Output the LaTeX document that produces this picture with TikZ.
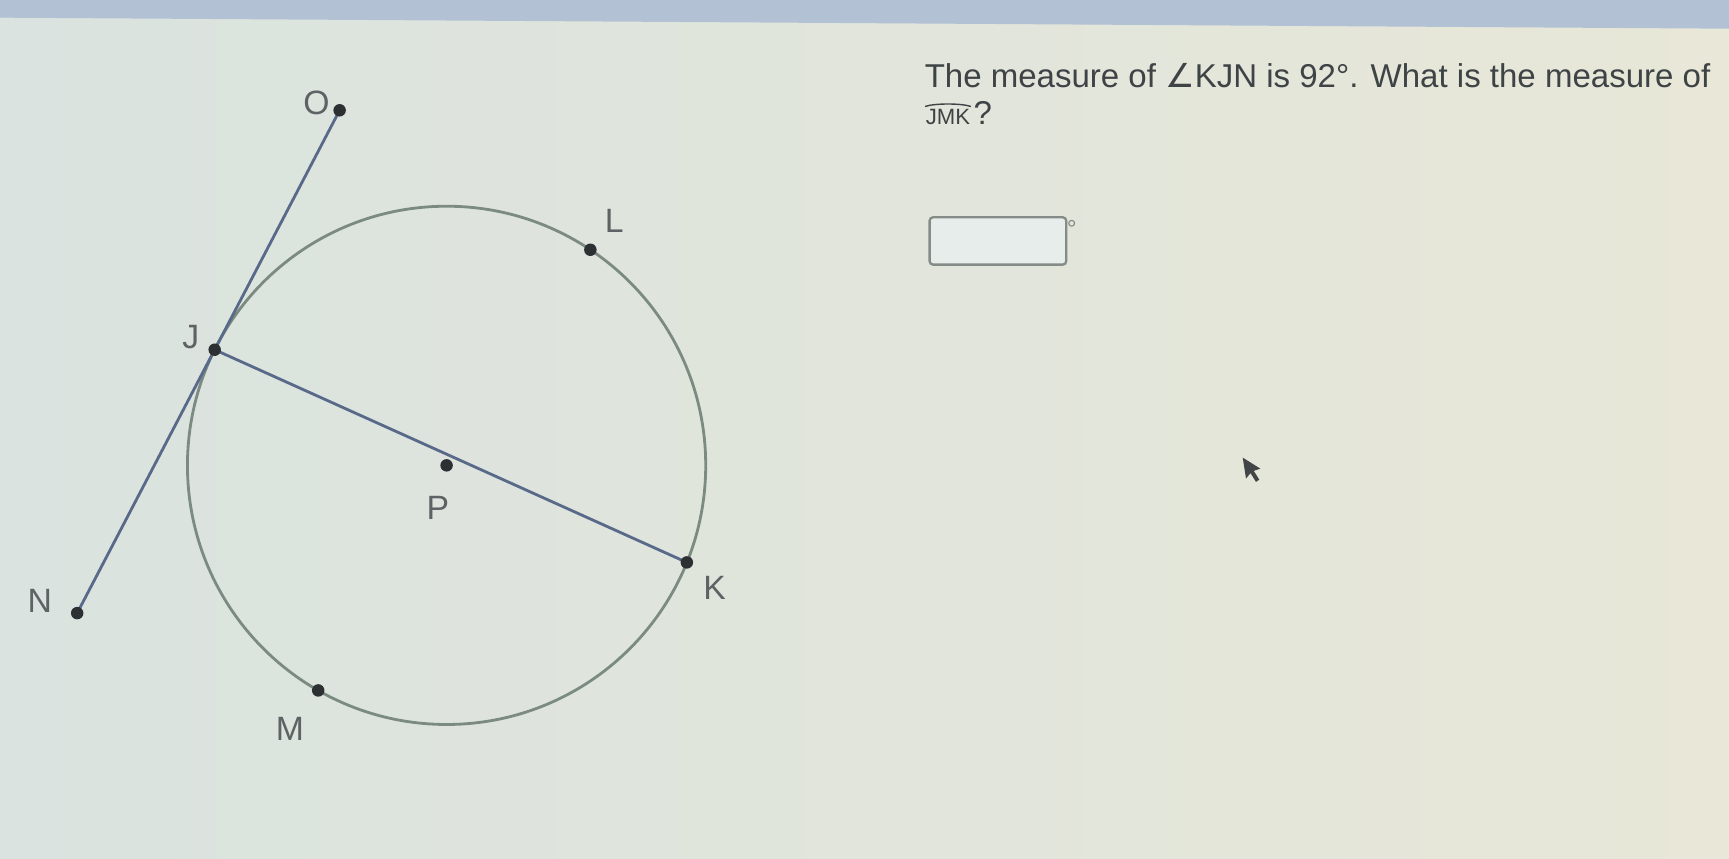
\documentclass[tikz,border=0pt]{standalone}
\usepackage{fontspec}
\setmainfont{Liberation Sans}
\newfontfamily\djv{DejaVu Sans}
\usetikzlibrary{calc}
\definecolor{bgL}{HTML}{DAE3DF}
\definecolor{bgR}{HTML}{E8E7D8}
\definecolor{barC}{HTML}{B2C1D4}
\definecolor{circC}{HTML}{7B8B82}
\definecolor{lineC}{HTML}{59698A}
\definecolor{dotC}{HTML}{2C3033}
\definecolor{labC}{HTML}{5E6264}
\definecolor{txtC}{HTML}{3E4346}
\definecolor{boxC}{HTML}{858B87}
\pgfdeclarelayer{background}
\pgfdeclarelayer{lines}
\pgfsetlayers{background,lines,main}
\begin{document}
\begin{tikzpicture}[x=0.011027cm,y=-0.011027cm,
  ptdot/.style={circle,fill=dotC,inner sep=0pt,minimum size=0.125cm},
  ptlab/.style={text=labC,font=\fontsize{9.6}{10}\selectfont,inner sep=0pt},
  seg/.style={draw=lineC,line width=0.8pt},
  circ/.style={draw=circC,line width=0.8pt},
  qtext/.style={text=txtC,font=\fontsize{9.4}{10}\selectfont,inner sep=0pt,anchor=base west}]
\useasboundingbox (0,0) rectangle (1568,779);
\begin{pgfonlayer}{background}
\shade[left color=bgL,right color=bgR] (0,0) rectangle (1568,779);
\fill[barC] (0,0) -- (1568,0) -- (1568,26) -- (0,16) -- cycle;
\end{pgfonlayer}
% circle and points
\coordinate (Pc) at (405,422);
\node[ptdot] (P) at (Pc) {};
\node[ptdot] (J) at ($(Pc)+(-153.5:235)$) {};
\node[ptdot] (K) at ($(Pc)+(22:235)$) {};
\node[ptdot] (L) at ($(Pc)+(-56.3:235)$) {};
\node[ptdot] (M) at ($(Pc)+(119.7:235)$) {};
\node[ptdot] (O) at (308,100) {};
\node[ptdot] (N) at (70,556) {};
\begin{pgfonlayer}{lines}
\draw[circ] (Pc) circle [radius=235];
\draw[seg] (O.center) -- (N.center);
\draw[seg] (J.center) -- (K.center);
\end{pgfonlayer}
% labels
\node[ptlab] (lO) at (287,93) {O};
\node[ptlab] (lJ) at (173,306) {J};
\node[ptlab] (lN) at (36,545) {N};
\node[ptlab] (lL) at (557,200) {L};
\node[ptlab] (lP) at (397,461) {P};
\node[ptlab] (lK) at (648,533) {K};
\node[ptlab] (lM) at (263,661) {M};
% question
\node[qtext] (q1) at (838,79) {The measure of {\djv ∠}KJN is 92°. What is the measure of};
\node[qtext,font=\fontsize{6.3}{7}\selectfont] (jmk) at (839,113) {JMK};
\draw[txtC,line width=0.4pt] ($(jmk.north west)+(0,-2)$) .. controls ($(jmk.north west)+(8,-5)$) and ($(jmk.north east)+(-8,-5)$) .. ($(jmk.north east)+(0,-2)$);
\node[qtext] (qm) at ($(jmk.base east)+(2,0)$) {?};
% answer box
\node[draw=boxC,fill=white!35!bgL,rounded corners=1pt,line width=0.65pt,minimum width=1.367cm,minimum height=0.474cm,inner sep=0pt] (box) at (905,218.5) {};
\node[text=boxC,font=\fontsize{7}{7}\selectfont,inner sep=0pt] (deg) at (972,208) {°};
% mouse cursor
\fill[dotC!90] (1127,415) -- (1130,434) -- (1134,429) -- (1139,437) -- (1142,435) -- (1137,427) -- (1143,425) -- cycle;
\end{tikzpicture}
\end{document}
